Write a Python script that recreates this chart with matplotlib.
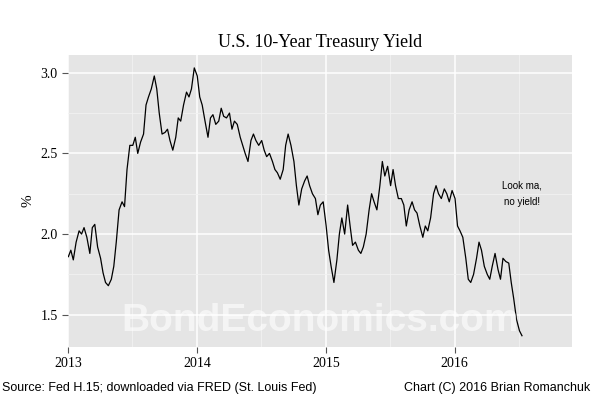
import matplotlib
matplotlib.use("Agg")
import matplotlib.pyplot as plt
import numpy as np
import pandas as pd

yields = [
 1.86,1.90,1.84,1.95, 2.02,2.00,2.04,1.98, 1.88,2.04,2.06,1.92, 1.85,1.76,1.70,1.68,
 1.72,1.80,1.95,2.15, 2.20,2.17,2.40,2.55, 2.55,2.60,2.50,2.57, 2.62,2.80,2.85,2.90,
 2.98,2.90,2.75,2.62, 2.63,2.65,2.58,2.52, 2.60,2.72,2.70,2.80, 2.88,2.85,2.90,3.03,
 2.98,2.85,2.80,2.70, 2.60,2.72,2.74,2.68, 2.70,2.78,2.73,2.72, 2.75,2.65,2.70,2.68,
 2.60,2.55,2.50,2.45, 2.58,2.62,2.58,2.55, 2.58,2.52,2.48,2.50, 2.45,2.40,2.38,2.34,
 2.40,2.55,2.62,2.55, 2.45,2.30,2.18,2.28, 2.33,2.36,2.30,2.25, 2.22,2.12,2.18,2.20,
 2.05,1.90,1.80,1.70, 1.84,2.00,2.10,2.00, 2.18,2.05,1.93,1.95, 1.90,1.88,1.92,2.00,
 2.15,2.25,2.20,2.15, 2.30,2.45,2.36,2.42, 2.30,2.40,2.30,2.22, 2.22,2.18,2.05,2.15,
 2.20,2.15,2.13,2.05, 1.98,2.05,2.02,2.10, 2.25,2.30,2.25,2.22, 2.28,2.25,2.20,2.27,
 2.22,2.05,2.02,1.98, 1.85,1.72,1.70,1.75, 1.85,1.95,1.90,1.80, 1.75,1.72,1.80,1.88,
 1.78,1.72,1.85,1.83, 1.82,1.70,1.60,1.47, 1.40,1.37]
# four readings per month, starting Jan 2013
days_in_month = [1, 8, 15, 23]
idx = np.arange(len(yields))
t = 2013 + (idx // 4) / 12.0 + np.array([days_in_month[i % 4] for i in idx]) / 365.0

fig = plt.figure(figsize=(6, 4), dpi=100)
ax = fig.add_axes([68/600, 53/400, 504/600, 292/400])
ax.set_facecolor("#e5e5e5")
for s in ax.spines.values():
    s.set_visible(False)
ax.plot(t, yields, color="black", lw=0.9)
ax.set_xlim(2013, 2016.91)
ax.set_ylim(1.30, 3.11)
ax.set_xticks([2013, 2014, 2015, 2016])
ax.set_xticks([2013.5, 2014.5, 2015.5, 2016.5], minor=True)
ax.set_yticks([1.5, 2.0, 2.5, 3.0])
ax.set_yticks([1.75, 2.25, 2.75], minor=True)
ax.set_yticklabels(["1.5", "2.0", "2.5", "3.0"])
ax.grid(True, which="major", color="white", lw=1.1)
ax.grid(True, which="minor", color="#f2f2f2", lw=0.6)
ax.set_axisbelow(True)
ax.tick_params(which="major", length=4, color="#555555", labelsize=10)
ax.tick_params(which="minor", length=0)
for lab in ax.get_xticklabels() + ax.get_yticklabels():
    lab.set_fontfamily("Liberation Serif")
ax.set_ylabel("%", fontfamily="Liberation Serif", fontsize=11)
ax.set_title("U.S. 10-Year Treasury Yield", fontfamily="Liberation Serif", fontsize=13, pad=6)
ax.text(0.5, 0.09, "BondEconomics.com", transform=ax.transAxes, ha="center", va="center",
        fontsize=28, fontweight="bold", color="white", alpha=0.6, fontfamily="Liberation Sans")
ax.text(2016.52, 2.25, "Look ma,\nno yield!", ha="center", va="center", fontsize=7,
        fontfamily="Liberation Sans", linespacing=1.7)
fig.text(2/600, 6/400, "Source: Fed H.15; downloaded via FRED (St. Louis Fed)", fontsize=9,
         fontfamily="Liberation Sans", va="bottom", ha="left")
fig.text(590/600, 6/400, "Chart (C) 2016 Brian Romanchuk", fontsize=9,
         fontfamily="Liberation Sans", va="bottom", ha="right")
fig.savefig("out.png", dpi=100, facecolor="white")
